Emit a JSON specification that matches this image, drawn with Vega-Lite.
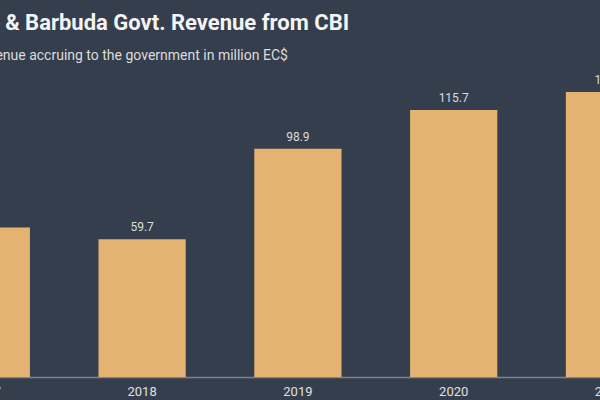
{
  "$schema": "https://vega.github.io/schema/vega-lite/v6.json",
  "width": 600,
  "height": 307,
  "autosize": {"type": "none"},
  "padding": {"left": 0, "right": 0, "top": 70, "bottom": 23},
  "background": "#343e4d",
  "title": {
    "text": "Antigua & Barbuda Govt. Revenue from CBI",
    "subtitle": "\u200b\u00a0\u00a0Annual revenue accruing to the government in million EC$",
    "anchor": "start",
    "frame": "group",
    "dx": -77,
    "offset": 6,
    "font": "Roboto",
    "fontSize": 22,
    "fontWeight": "bold",
    "color": "#f4f4f4",
    "subtitleFont": "Roboto",
    "subtitleFontSize": 14,
    "subtitleColor": "#dcdcdc",
    "subtitlePadding": 14
  },
  "data": {
    "values": [
      {"year": "2017", "revenue": 64.8},
      {"year": "2018", "revenue": 59.7},
      {"year": "2019", "revenue": 98.9},
      {"year": "2020", "revenue": 115.7},
      {"year": "2021", "revenue": 123.5}
    ]
  },
  "encoding": {
    "x": {
      "field": "year",
      "type": "nominal",
      "scale": {"range": [-57.3, 653.1], "paddingInner": 0.44, "paddingOuter": 0},
      "axis": {
        "title": null,
        "labelAngle": 0,
        "labelFont": "Roboto",
        "labelFontSize": 13,
        "labelColor": "#e0e0e0",
        "labelPadding": 8,
        "ticks": false,
        "tickSize": 0,
        "domainColor": "#7d8593",
        "domainWidth": 1.5,
        "grid": false
      }
    },
    "y": {
      "field": "revenue",
      "type": "quantitative",
      "scale": {"domain": [0, 133], "nice": false, "zero": true},
      "axis": null
    }
  },
  "layer": [
    {"mark": {"type": "bar", "color": "#e4b372"}},
    {
      "mark": {
        "type": "text",
        "baseline": "alphabetic",
        "dy": -8,
        "font": "Roboto",
        "fontSize": 12,
        "color": "#dcdcdc"
      },
      "encoding": {"text": {"field": "revenue", "type": "quantitative", "format": ".1f"}}
    }
  ],
  "config": {"view": {"stroke": null}}
}
